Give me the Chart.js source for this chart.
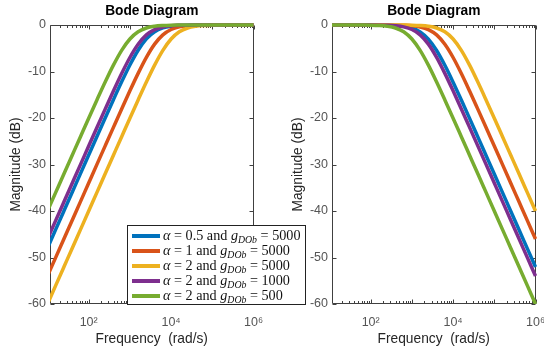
<!DOCTYPE html>
<html>
<head>
<meta charset="utf-8">
<script src="https://cdn.jsdelivr.net/npm/chart.js@4/dist/chart.umd.min.js"></script>
<style>
  html, body { margin:0; padding:0; background:#fff; }
  #wrap { position:relative; width:544px; height:354px; overflow:hidden; background:#fff; }
  canvas { position:absolute; left:0; top:0; }
  #legend { position:absolute; left:127px; top:225px; width:177px; height:78px; border:1px solid #222; background:#fff;
            font-family:"Liberation Serif","Times New Roman",serif; font-size:14.2px; color:#111; }
  .row { position:absolute; left:0; height:15px; line-height:15px; white-space:nowrap; }
  .sw { position:absolute; left:4px; top:6px; width:28px; height:3.5px; }
  .tx { position:absolute; left:35px; top:0; }
  .tx i { font-style:italic; }
  .tx sub { font-size:9.8px; vertical-align:-3px; font-style:italic; }
</style>
</head>
<body>
<div id="wrap">
  <canvas id="c1" width="544" height="354"></canvas>
  <canvas id="c2" width="544" height="354"></canvas>
  <div id="legend"></div>
</div>
<script>
// ---------- data ----------
const freq = [10, 15.85, 25.12, 39.81, 63.1, 100, 158.5, 251.2, 398.1, 631, 1000, 1585, 2512, 3981, 6310,
              10000, 15849, 25119, 39811, 63096, 100000, 158489, 251189, 398107, 630957, 1000000];

const seriesNames = ['α = 0.5 and g_DOb = 5000', 'α = 1 and g_DOb = 5000', 'α = 2 and g_DOb = 5000',
                     'α = 2 and g_DOb = 1000', 'α = 2 and g_DOb = 500'];
const alphaLabels = ['0.5', '1', '2', '2', '2'];
const gLabels = ['5000', '5000', '5000', '1000', '500'];
const colors = ['#0072BD', '#D95319', '#EDB120', '#7E2F8E', '#77AC30'];

// left panel (high-pass magnitude, dB)
const lBlue   = [-47.96,-43.96,-39.96,-35.96,-31.96,-27.97,-23.98,-20.00,-16.07,-12.23,-8.60,-5.43,-2.99,-1.44,-0.63,-0.26,-0.11,-0.04,-0.02,-0.01,0,0,0,0,0,0];
const lOrange = [-53.98,-49.98,-45.98,-41.98,-37.98,-33.98,-29.98,-25.99,-22.01,-18.05,-14.15,-10.40,-6.96,-4.11,-2.12,-0.97,-0.41,-0.17,-0.07,-0.03,-0.01,0,0,0,0,0];
const lYellow = [-60.0,-56.0,-52.0,-48.0,-44.0,-40.0,-36.0,-32.0,-28.01,-24.02,-20.04,-16.11,-12.27,-8.64,-5.46,-3.01,-1.46,-0.64,-0.27,-0.11,-0.04,-0.02,-0.01,0,0,0];
const lPurple = [-46.02,-42.02,-38.02,-34.02,-30.02,-26.03,-22.03,-18.09,-14.19,-10.43,-6.99,-4.14,-2.13,-0.98,-0.42,-0.17,-0.07,-0.03,-0.01,0,0,0,0,0,0,0];
const lGreen  = [-40.0,-36.0,-32.0,-28.01,-24.02,-20.04,-16.11,-12.27,-8.64,-5.46,-3.01,-1.46,-0.64,-0.27,-0.11,-0.04,-0.02,-0.01,0,0,0,0,0,0,0,0];

// right panel (low-pass magnitude, dB)
const rBlue   = [0,0,0,0,0,-0.01,-0.02,-0.04,-0.11,-0.27,-0.65,-1.47,-3.03,-5.48,-8.67,-12.30,-16.15,-20.08,-24.06,-28.05,-32.04,-36.04,-40.04,-44.04,-48.04,-52.04];
const rOrange = [0,0,0,0,0,0,0,-0.01,-0.03,-0.07,-0.17,-0.42,-0.98,-2.13,-4.14,-6.99,-10.43,-14.19,-18.09,-22.03,-26.03,-30.02,-34.02,-38.02,-42.02,-46.02];
const rYellow = [0,0,0,0,0,0,0,0,-0.01,-0.02,-0.04,-0.11,-0.27,-0.64,-1.46,-3.01,-5.46,-8.64,-12.27,-16.11,-20.04,-24.02,-28.01,-32.0,-36.0,-40.0];
const rPurple = [0,0,0,0,0,-0.01,-0.03,-0.07,-0.17,-0.41,-0.97,-2.12,-4.11,-6.96,-10.40,-14.15,-18.05,-22.01,-25.99,-29.98,-33.98,-37.98,-41.98,-45.98,-49.98,-53.98];
const rGreen  = [0,0,0,-0.01,-0.02,-0.04,-0.11,-0.27,-0.64,-1.46,-3.01,-5.46,-8.64,-12.27,-16.11,-20.04,-24.02,-28.01,-32.0,-36.0,-40.0,-44.0,-48.0,-52.0,-56.0,-60.0];

const xTickValues = [100, 10000, 1000000];
const xTickLabels = ['10²', '10⁴', '10⁶'];
const yTickValues = [-60, -50, -40, -30, -20, -10, 0];
const xMin = 11.5, xMax = 1000000, yMin = -60, yMax = 0;
const chartTitle = 'Bode Diagram';
const xTitle = 'Frequency  (rad/s)';
const yTitle = 'Magnitude (dB)';

// ---------- rendering ----------
const SANS = '"Liberation Sans", Arial, Helvetica, sans-serif';

const framePlugin = {
  id: 'frame',
  beforeDatasetsDraw(chart) {
    const {ctx, chartArea: a, scales: {x, y}} = chart;
    ctx.save();
    ctx.strokeStyle = '#404040';
    ctx.lineWidth = 1;
    const L = Math.round(a.left) + 0.5, R = Math.round(a.right) - 0.5;
    const T = Math.round(a.top) + 0.5, B = Math.round(a.bottom) - 0.5;
    ctx.beginPath();
    ctx.rect(L, T, R - L, B - T);
    yTickValues.forEach(v => {
      const py = Math.round(y.getPixelForValue(v)) + 0.5;
      ctx.moveTo(L, py); ctx.lineTo(L + 4, py);
      ctx.moveTo(R, py); ctx.lineTo(R - 4, py);
    });
    for (let e = 1; e <= 6; e++) {
      for (let m = 1; m <= 9; m++) {
        const v = m * Math.pow(10, e);
        if (v < xMin || v > xMax) continue;
        const px = Math.round(x.getPixelForValue(v)) + 0.5;
        const len = (m === 1) ? 4 : 2.5;
        ctx.moveTo(px, B); ctx.lineTo(px, B - len);
        ctx.moveTo(px, T); ctx.lineTo(px, T + len);
      }
    }
    ctx.stroke();
    ctx.restore();
  }
};

function makeChart(canvasId, vals, padLeft, padRight, yWidth, yTitlePad) {
  const order = [5, 4, 3, 2, 1];
  const datasets = vals.map((arr, k) => ({
    label: seriesNames[k],
    data: freq.map((f, i) => ({x: f, y: arr[i]})),
    borderColor: colors[k],
    backgroundColor: colors[k],
    borderWidth: 3.5,
    pointRadius: 0,
    fill: false,
    cubicInterpolationMode: 'monotone',
    clip: {left: 0, top: 3, right: 3, bottom: 0},
    order: order[k]
  }));
  return new Chart(document.getElementById(canvasId), {
    type: 'line',
    data: {datasets},
    plugins: [framePlugin],
    options: {
      responsive: false,
      animation: false,
      devicePixelRatio: 1,
      layout: {padding: {left: padLeft, right: padRight, top: 0, bottom: 0}},
      plugins: {
        legend: {display: false},
        tooltip: {enabled: false},
        title: {
          display: true, text: chartTitle, fullSize: false, color: '#000',
          font: {family: SANS, size: 13.75, weight: 'bold'},
          padding: {top: 3, bottom: 5.5}
        }
      },
      scales: {
        x: {
          type: 'logarithmic', position: 'bottom', min: xMin, max: xMax,
          grid: {display: false, drawTicks: false},
          border: {display: false},
          afterBuildTicks: s => { s.ticks = xTickValues.map(v => ({value: v})); },
          ticks: {
            color: '#555', font: {family: SANS, size: 12.5}, padding: 11,
            autoSkip: false, maxRotation: 0, minRotation: 0,
            callback: (v, i) => xTickLabels[i]
          },
          title: {display: true, text: xTitle, color: '#262626',
                  font: {family: SANS, size: 13.75}, padding: {top: 0, bottom: 6.5}},
          afterFit: s => { s.height = 50; s.paddingLeft = 0; s.paddingRight = 0; }
        },
        y: {
          type: 'linear', position: 'left', min: yMin, max: yMax,
          grid: {display: false, drawTicks: false},
          border: {display: false},
          afterBuildTicks: s => { s.ticks = yTickValues.map(v => ({value: v})); },
          ticks: {color: '#555', font: {family: SANS, size: 12.5}, padding: 4},
          title: {display: true, text: yTitle, color: '#262626',
                  font: {family: SANS, size: 13.75}, padding: {top: yTitlePad, bottom: 0}},
          afterFit: s => { s.width = yWidth; s.paddingTop = 0; s.paddingBottom = 0; }
        }
      }
    }
  });
}

makeChart('c1', [lBlue, lOrange, lYellow, lPurple, lGreen], 0, 290.5, 50, 7.75);
makeChart('c2', [rBlue, rOrange, rYellow, rPurple, rGreen], 272, 8.5, 60, 17.75);

// legend (HTML overlay, real text)
const legend = document.getElementById('legend');
const rowTops = [2, 17, 32, 47, 62];
seriesNames.forEach((n, k) => {
  const row = document.createElement('div');
  row.className = 'row';
  row.style.top = rowTops[k] + 'px';
  row.innerHTML = '<span class="sw" style="background:' + colors[k] + '"></span>' +
    '<span class="tx"><i>α</i> = ' + alphaLabels[k] + ' and <i>g</i><sub>DOb</sub> = ' + gLabels[k] + '</span>';
  legend.appendChild(row);
});
</script>
</body>
</html>
